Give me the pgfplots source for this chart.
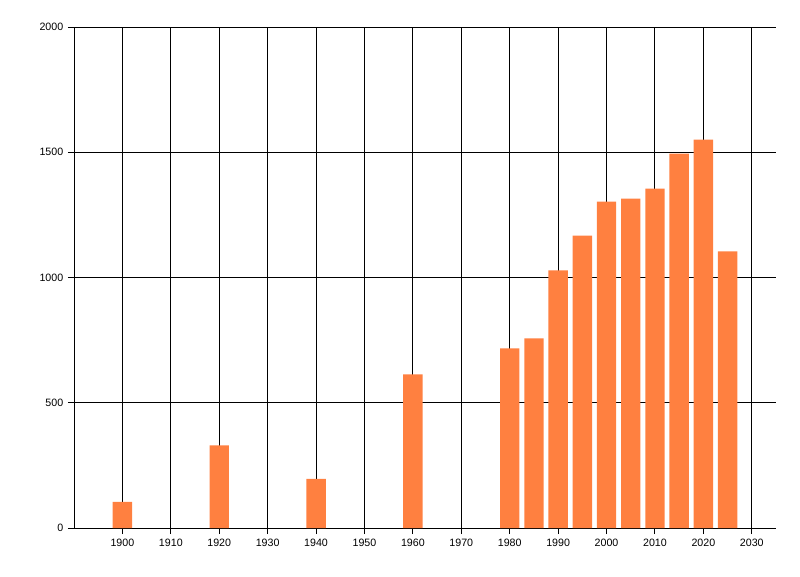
\documentclass[border=0pt]{standalone}
\usepackage{fontspec}
\setmainfont{Liberation Sans}
\usepackage{pgfplots}
\pgfplotsset{compat=1.18}
\definecolor{barorange}{RGB}{255,128,64}
\begin{document}
\begin{tikzpicture}
\begin{axis}[
  scale only axis,
  width=526.5pt, height=375.75pt,
  xmin=1890, xmax=2035,
  ymin=0, ymax=2000,
  axis lines=left,
  axis line style={-, black, line width=0.75pt},
  xtick={1900,1910,...,2030},
  ytick={0,500,...,2000},
  grid=major,
  major grid style={black, line width=0.75pt},
  tick align=outside,
  major tick length=4.5pt,
  tick style={black, line width=0.75pt},
  /pgf/number format/1000 sep={},
  /pgf/number format/assume math mode=true,
  tick label style={font=\fontsize{8}{9}\selectfont},
  ybar,
  bar width=4,
  bar shift=0pt,
]
\addplot[fill=barorange, draw=none] coordinates {
(1900,104) (1920,330) (1940,196) (1960,613)
(1980,717) (1985,757) (1990,1028) (1995,1167) (2000,1303)
(2005,1315) (2010,1355) (2015,1495) (2020,1550) (2025,1104)
};
\end{axis}
\path (current axis.south west) ++(-55.5pt,-36pt) rectangle ++(600pt,432pt);
\end{tikzpicture}
\end{document}
